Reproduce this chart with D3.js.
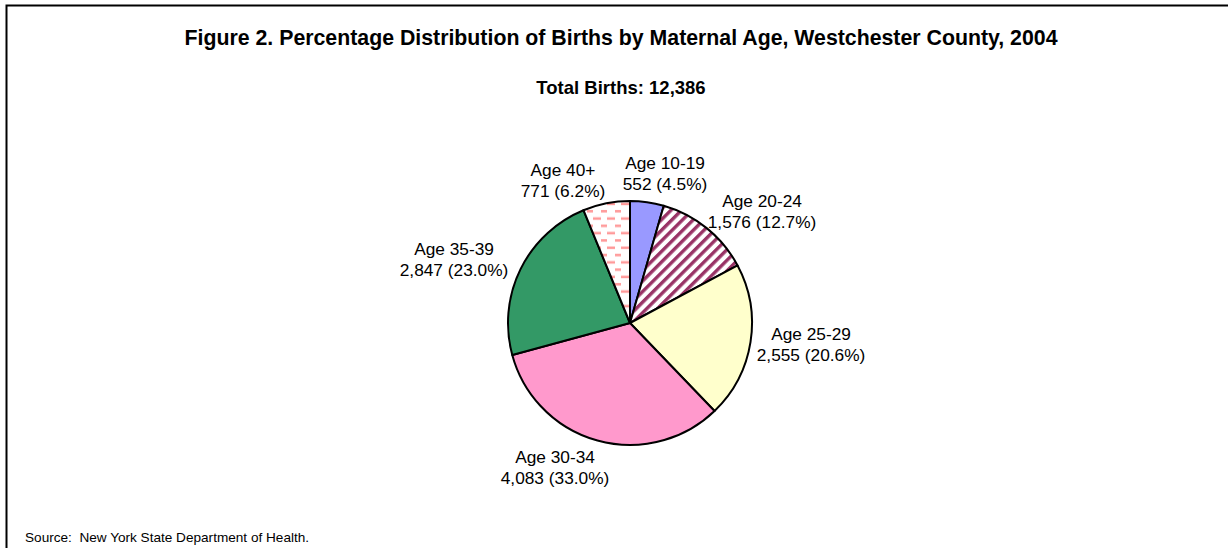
<!DOCTYPE html>
<html>
<head>
<meta charset="utf-8">
<script src="https://cdn.jsdelivr.net/npm/d3@7"></script>
<style>
  body { margin: 0; background: #fff; }
  svg { display: block; font-family: Arial, "Liberation Sans", sans-serif; }
</style>
</head>
<body>
<div id="chart"></div>
<script>
// data
var ageGroups = ["Age 10-19", "Age 20-24", "Age 25-29", "Age 30-34", "Age 35-39", "Age 40+"];
var births = [552, 1576, 2555, 4083, 2847, 771];
var percents = [4.5, 12.7, 20.6, 33.0, 23.0, 6.2];
var totalBirths = 12386;

var width = 1228, height = 548;
var cx = 630, cy = 323, radius = 122;

var svg = d3.select("#chart").append("svg")
    .attr("width", width)
    .attr("height", height);

var defs = svg.append("defs");

// diagonal stripes for 20-24
var stripes = defs.append("pattern")
    .attr("id", "stripes")
    .attr("patternUnits", "userSpaceOnUse")
    .attr("width", 7.5)
    .attr("height", 7.5)
    .attr("patternTransform", "rotate(-45)");
stripes.append("rect").attr("width", 7.5).attr("height", 7.5).attr("fill", "#fff");
stripes.append("rect").attr("width", 7.5).attr("height", 3.4).attr("fill", "#993366");

// small pink dashes for 40+
var dashes = defs.append("pattern")
    .attr("id", "dashes")
    .attr("patternUnits", "userSpaceOnUse")
    .attr("width", 14)
    .attr("height", 14.6)
    .attr("x", cx - 2)
    .attr("y", cy);
dashes.append("rect").attr("width", 14).attr("height", 14.6).attr("fill", "#fff");
dashes.append("rect").attr("x", 0).attr("y", 2).attr("width", 7).attr("height", 2.5).attr("fill", "#ff9999");
dashes.append("rect").attr("x", 7).attr("y", 9.3).attr("width", 7).attr("height", 2.5).attr("fill", "#ff9999");

var fills = ["#9999ff", "url(#stripes)", "#ffffcc", "#ff99cc", "#339966", "url(#dashes)"];

// frame: top and left edges only visible
svg.append("path")
    .attr("d", "M6.5," + (height) + "V5.5H" + width)
    .attr("fill", "none")
    .attr("stroke", "#000")
    .attr("stroke-width", 2);

svg.append("text")
    .attr("x", 621)
    .attr("y", 45)
    .attr("text-anchor", "middle")
    .attr("font-size", 21.3)
    .attr("font-weight", "bold")
    .text("Figure 2. Percentage Distribution of Births by Maternal Age, Westchester County, 2004");

svg.append("text")
    .attr("x", 621)
    .attr("y", 94)
    .attr("text-anchor", "middle")
    .attr("font-size", 18.5)
    .attr("font-weight", "bold")
    .text("Total Births: " + d3.format(",")(totalBirths));

var pie = d3.pie().sort(null).value(function(d) { return d; });
var arc = d3.arc().innerRadius(0).outerRadius(radius);
var arcs = pie(births);

var g = svg.append("g").attr("transform", "translate(" + cx + "," + cy + ")");

g.selectAll("path.slice")
  .data(arcs)
  .enter().append("path")
    .attr("class", "slice")
    .attr("d", arc)
    .attr("fill", function(d, i) { return fills[i]; })
    .attr("stroke", "#000")
    .attr("stroke-width", 2)
    .attr("stroke-linejoin", "round");

// label anchors: centre of the two-line block, relative to pie centre
var labelPos = [
  [35, -149], [132, -111], [181, 22], [-75, 145], [-176, -63], [-67, -142]
];

var labels = svg.append("g")
    .attr("font-size", 17.3)
    .attr("fill", "#000")
    .selectAll("text")
  .data(arcs)
  .enter().append("text")
    .attr("text-anchor", "middle")
    .attr("transform", function(d, i) {
      return "translate(" + (cx + labelPos[i][0]) + "," + (cy + labelPos[i][1]) + ")";
    });

labels.append("tspan")
    .attr("x", 0)
    .attr("y", -5)
    .text(function(d, i) { return ageGroups[i]; });
labels.append("tspan")
    .attr("x", 0)
    .attr("y", 16)
    .text(function(d, i) { return d3.format(",")(births[i]) + " (" + percents[i].toFixed(1) + "%)"; });

svg.append("text")
    .attr("x", 25)
    .attr("y", 542)
    .attr("font-size", 13.6)
    .style("white-space", "pre")
    .text("Source:  New York State Department of Health.");
</script>
</body>
</html>
